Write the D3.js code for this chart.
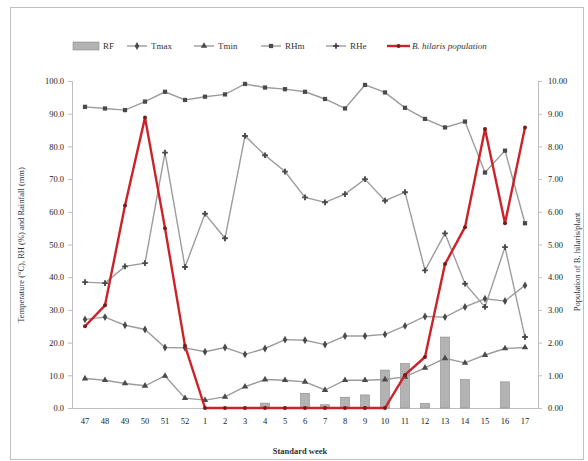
<!DOCTYPE html>
<html><head><meta charset="utf-8">
<script src="https://cdn.jsdelivr.net/npm/d3@7/dist/d3.min.js"></script>
<style>body{margin:0;background:#fff}svg{display:block}</style>
</head><body>
<script>
const weeks = ["47","48","49","50","51","52","1","2","3","4","5","6","7","8","9","10","11","12","13","14","15","16","17"];
const RF   = [0,0,0,0,0,0,0,0,0,1.5,0,4.5,1.0,3.3,4.0,11.6,13.6,1.4,21.7,8.7,0,8.0,0];
const Tmax = [27.1,27.8,25.3,24.0,18.5,18.4,17.2,18.5,16.4,18.2,20.9,20.7,19.4,22.0,22.0,22.5,25.1,28.0,27.8,30.9,33.4,32.7,37.5];
const Tmin = [9.0,8.5,7.5,6.8,9.8,3.0,2.4,3.4,6.5,8.7,8.5,8.0,5.5,8.5,8.5,8.7,9.5,12.3,15.2,13.8,16.2,18.2,18.5];
const RHm  = [92.1,91.6,91.1,93.7,96.7,94.2,95.2,95.9,99.1,98.0,97.5,96.7,94.5,91.6,98.8,96.5,91.8,88.4,85.8,87.6,72.0,78.7,56.5];
const RHe  = [38.5,38.2,43.3,44.3,78.1,43.1,59.4,51.9,83.2,77.3,72.3,64.4,62.9,65.4,70.0,63.4,66.0,42.1,53.4,38.0,30.9,49.2,21.7];
const pop  = [2.50,3.14,6.19,8.88,5.50,1.90,0,0,0,0,0,0,0,0,0,0,1.01,1.56,4.40,5.53,8.53,5.65,8.58];
const leftTicks = [0,10,20,30,40,50,60,70,80,90,100];
const rightTicks = [0,1,2,3,4,5,6,7,8,9,10];

const W = 588, H = 461;
const svg = d3.select("body").append("svg").attr("width", W).attr("height", H);
const font = "Liberation Serif, Times New Roman, serif";

svg.append("rect").attr("x", 10.5).attr("y", 7.5).attr("width", 573).attr("height", 452)
  .attr("fill", "none").attr("stroke", "#c0c0c0");

const x = d3.scaleBand().domain(weeks).range([75, 535]).padding(0);
const yL = d3.scaleLinear().domain([0, 100]).range([408, 81]);
const yR = d3.scaleLinear().domain([0, 10]).range([408, 81]);
const cx = w => x(w) + x.bandwidth() / 2;

// axes
const axL = svg.append("g").attr("transform", "translate(72,0)")
  .call(d3.axisLeft(yL).tickValues(leftTicks).tickFormat(d3.format(".1f")).tickSize(4).tickPadding(4));
const axR = svg.append("g").attr("transform", "translate(538,0)")
  .call(d3.axisRight(yR).tickValues(rightTicks).tickFormat(d3.format(".2f")).tickSize(4).tickPadding(6));
const axB = svg.append("g").attr("transform", "translate(0,408)")
  .call(d3.axisBottom(x).tickSize(0).tickPadding(10));
[axL, axR, axB].forEach(a => {
  a.selectAll("path").attr("stroke", "#bdbdbd");
  a.selectAll("line").attr("stroke", "#bdbdbd");
  a.selectAll("text").attr("font-family", font).attr("font-size", 8.5).attr("fill", "#222");
});
axB.select("path").attr("d", "M72,0.5H538");

// bars
svg.append("g").selectAll("rect").data(weeks).join("rect")
  .attr("x", (w, i) => cx(w) - 4.5).attr("width", 9)
  .attr("y", (w, i) => yL(RF[i])).attr("height", (w, i) => yL(0) - yL(RF[i]))
  .attr("fill", "#b3b3b3").attr("stroke", "#8a8a8a").attr("stroke-width", 0.6)
  .style("display", (w, i) => RF[i] > 0 ? null : "none");

const lineColor = "#9c9c9c", markColor = "#4a4a4a";
const series = [
  {name: "Tmax", data: Tmax, sym: d3.symbolDiamond},
  {name: "Tmin", data: Tmin, sym: d3.symbolTriangle},
  {name: "RHm", data: RHm, sym: d3.symbolSquare},
  {name: "RHe", data: RHe, sym: d3.symbolCross}
];
series.forEach(s => {
  const line = d3.line().x((d, i) => cx(weeks[i])).y(d => yL(d));
  svg.append("path").datum(s.data).attr("d", line).attr("fill", "none")
    .attr("stroke", lineColor).attr("stroke-width", 1.4);
  svg.append("g").selectAll("path").data(s.data).join("path")
    .attr("transform", (d, i) => `translate(${cx(weeks[i])},${yL(d)})`)
    .attr("d", d3.symbol().type(s.sym).size(18)).attr("fill", markColor);
});

// population
const popLine = d3.line().x((d, i) => cx(weeks[i])).y(d => yR(d));
svg.append("path").datum(pop).attr("d", popLine).attr("fill", "none")
  .attr("stroke", "#cc2229").attr("stroke-width", 2.4).attr("stroke-linejoin", "round");
svg.append("g").selectAll("circle").data(pop).join("circle")
  .attr("cx", (d, i) => cx(weeks[i])).attr("cy", d => yR(d)).attr("r", 2)
  .attr("fill", "#7a1a1a");

// legend
const lg = svg.append("g").attr("font-family", font).attr("font-size", 9).attr("fill", "#333");
lg.append("rect").attr("x", 73).attr("y", 42).attr("width", 26).attr("height", 8)
  .attr("fill", "#b3b3b3").attr("stroke", "#8a8a8a").attr("stroke-width", 0.6);
lg.append("text").attr("x", 103).attr("y", 49).text("RF");
const legItems = [
  {x: 127, label: "Tmax", sym: d3.symbolDiamond},
  {x: 194, label: "Tmin", sym: d3.symbolTriangle},
  {x: 261, label: "RHm", sym: d3.symbolSquare},
  {x: 326, label: "RHe", sym: d3.symbolCross}
];
legItems.forEach(it => {
  lg.append("line").attr("x1", it.x).attr("x2", it.x + 20).attr("y1", 46).attr("y2", 46)
    .attr("stroke", lineColor).attr("stroke-width", 1.4);
  lg.append("path").attr("transform", `translate(${it.x + 10},46)`)
    .attr("d", d3.symbol().type(it.sym).size(18)).attr("fill", markColor);
  lg.append("text").attr("x", it.x + 24).attr("y", 49).text(it.label);
});
lg.append("line").attr("x1", 387).attr("x2", 410).attr("y1", 46).attr("y2", 46)
  .attr("stroke", "#cc2229").attr("stroke-width", 2.4);
lg.append("circle").attr("cx", 398.5).attr("cy", 46).attr("r", 2).attr("fill", "#7a1a1a");
lg.append("text").attr("x", 412).attr("y", 49).attr("font-style", "italic").text("B. hilaris population");

// axis titles
svg.append("text").attr("transform", "translate(24,245) rotate(-90)").attr("text-anchor", "middle")
  .attr("font-family", font).attr("font-size", 8.5).attr("fill", "#333")
  .text("Temperature (°C), RH (%) and Rainfall (mm)");
svg.append("text").attr("transform", "translate(580,262) rotate(-90)").attr("text-anchor", "middle")
  .attr("font-family", font).attr("font-size", 8.5).attr("fill", "#333")
  .text("Population of B. hilaris/plant");
svg.append("text").attr("x", 300).attr("y", 454).attr("text-anchor", "middle")
  .attr("font-family", font).attr("font-size", 8.5).attr("font-weight", "bold").attr("fill", "#333")
  .text("Standard week");
</script>
</body></html>
